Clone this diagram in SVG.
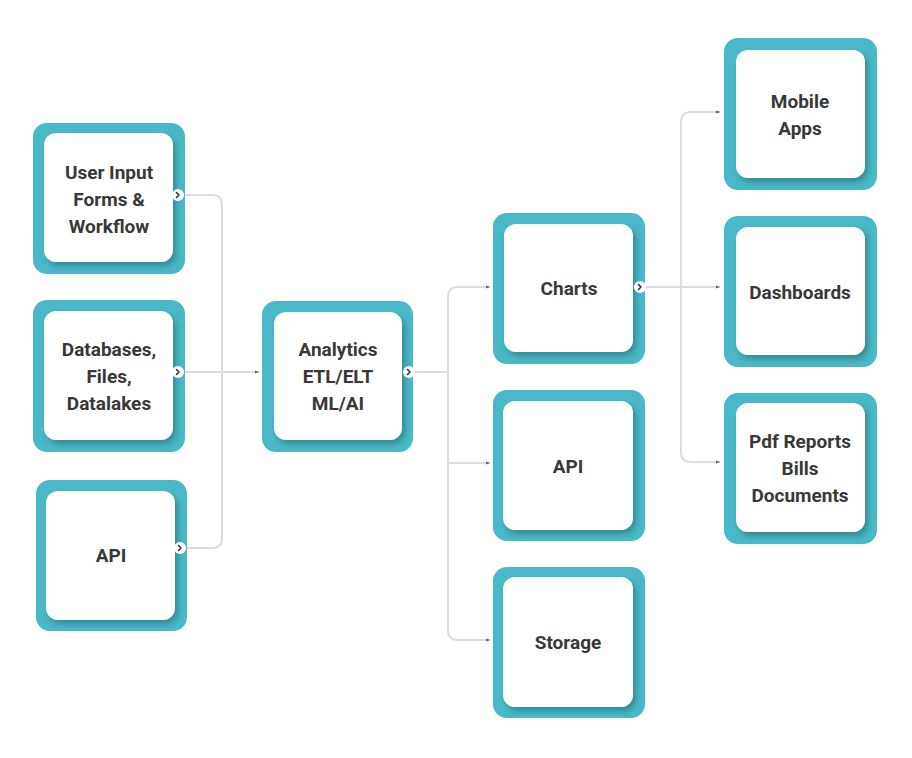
<svg xmlns="http://www.w3.org/2000/svg" width="912" height="758" viewBox="0 0 912 758">
<defs>
<filter id="sh" x="-20%" y="-20%" width="150%" height="150%">
<feDropShadow dx="3" dy="4" stdDeviation="3" flood-color="#1d5f6a" flood-opacity="0.55"/>
</filter>
<marker id="ah" viewBox="0 0 6 6" refX="5" refY="3" markerWidth="6" markerHeight="6" markerUnits="userSpaceOnUse" orient="auto">
<path d="M1 1.5 L5 3 L1 4.5 Z" fill="#666"/>
</marker>
</defs>
<style>
.outer{fill:#4ab9c7}
.inner{fill:#ffffff;filter:url(#sh)}
.t{font-family:Roboto,"Liberation Sans",sans-serif;font-weight:700;font-size:19px;fill:#383838;text-anchor:middle;dominant-baseline:central}
.ln{fill:none;stroke:#dcdcdc;stroke-width:2}
.dot{fill:#ffffff}
.chev{fill:none;stroke:#333;stroke-width:1.6;stroke-linecap:round;stroke-linejoin:round}
</style>
<rect width="912" height="758" fill="#ffffff"/>
<g id="connectors">
<path class="ln" d="M184 195 H212 Q222 195 222 205 V538 Q222 548 212 548 H184"/>
<path class="ln" d="M184 372 H259" marker-end="url(#ah)"/>
<path class="ln" d="M415 372 H448"/>
<path class="ln" d="M448 372 V297 Q448 287 458 287 H490" marker-end="url(#ah)"/>
<path class="ln" d="M448 372 V630 Q448 640 458 640 H490" marker-end="url(#ah)"/>
<path class="ln" d="M448 463 H490" marker-end="url(#ah)"/>
<path class="ln" d="M646 287 H720" marker-end="url(#ah)"/>
<path class="ln" d="M681 287 V122 Q681 112 691 112 H720" marker-end="url(#ah)"/>
<path class="ln" d="M681 287 V452 Q681 462 691 462 H720" marker-end="url(#ah)"/>
</g>
<g id="user-input">
<rect class="outer" x="33" y="123" width="152" height="151" rx="14"/>
<rect class="inner" x="44" y="133" width="129" height="129" rx="12"/>
<text class="t" x="109" y="172">User Input</text>
<text class="t" x="109" y="199">Forms &amp;</text>
<text class="t" x="109" y="226">Workflow</text>
</g>
<g id="databases">
<rect class="outer" x="33" y="300" width="152" height="152" rx="14"/>
<rect class="inner" x="44" y="311" width="129" height="129" rx="12"/>
<text class="t" x="109" y="349">Databases,</text>
<text class="t" x="109" y="376">Files,</text>
<text class="t" x="109" y="403">Datalakes</text>
</g>
<g id="api-in">
<rect class="outer" x="36" y="480" width="151" height="151" rx="14"/>
<rect class="inner" x="46" y="491" width="129" height="129" rx="12"/>
<text class="t" x="111" y="555">API</text>
</g>
<g id="analytics">
<rect class="outer" x="262" y="301" width="151" height="151" rx="14"/>
<rect class="inner" x="274" y="312" width="128" height="128" rx="12"/>
<text class="t" x="338" y="349">Analytics</text>
<text class="t" x="338" y="376">ETL/ELT</text>
<text class="t" x="338" y="403">ML/AI</text>
</g>
<g id="charts">
<rect class="outer" x="493" y="213" width="152" height="151" rx="14"/>
<rect class="inner" x="504" y="224" width="129" height="128" rx="12"/>
<text class="t" x="569" y="288">Charts</text>
</g>
<g id="api-out">
<rect class="outer" x="493" y="390" width="152" height="151" rx="14"/>
<rect class="inner" x="503" y="401" width="130" height="129" rx="12"/>
<text class="t" x="568" y="466">API</text>
</g>
<g id="storage">
<rect class="outer" x="493" y="567" width="152" height="151" rx="14"/>
<rect class="inner" x="503" y="577" width="130" height="130" rx="12"/>
<text class="t" x="568" y="642">Storage</text>
</g>
<g id="mobile">
<rect class="outer" x="724" y="38" width="153" height="152" rx="14"/>
<rect class="inner" x="736" y="50" width="129" height="128" rx="12"/>
<text class="t" x="800" y="101">Mobile</text>
<text class="t" x="800" y="128">Apps</text>
</g>
<g id="dashboards">
<rect class="outer" x="724" y="216" width="153" height="151" rx="14"/>
<rect class="inner" x="736" y="227" width="129" height="128" rx="12"/>
<text class="t" x="800" y="292">Dashboards</text>
</g>
<g id="pdf">
<rect class="outer" x="724" y="393" width="153" height="151" rx="14"/>
<rect class="inner" x="736" y="403" width="129" height="129" rx="12"/>
<text class="t" x="800" y="441">Pdf Reports</text>
<text class="t" x="800" y="468">Bills</text>
<text class="t" x="800" y="495">Documents</text>
</g>
<g id="chevrons">
<circle class="dot" cx="178" cy="195" r="6"/><path class="chev" d="M176.5 192.5 L179 195 L176.5 197.5"/>
<circle class="dot" cx="178" cy="372" r="6"/><path class="chev" d="M176.5 369.5 L179 372 L176.5 374.5"/>
<circle class="dot" cx="180" cy="548" r="6"/><path class="chev" d="M178.5 545.5 L181 548 L178.5 550.5"/>
<circle class="dot" cx="409" cy="372" r="6"/><path class="chev" d="M407.5 369.5 L410 372 L407.5 374.5"/>
<circle class="dot" cx="640" cy="287" r="6"/><path class="chev" d="M638.5 284.5 L641 287 L638.5 289.5"/>
</g>
</svg>
